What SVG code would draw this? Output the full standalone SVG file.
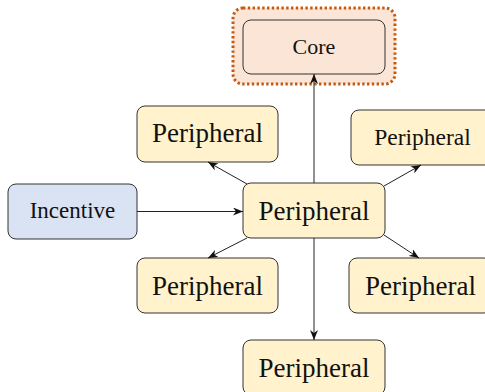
<svg xmlns="http://www.w3.org/2000/svg" width="485" height="392" viewBox="0 0 485 392">
  <defs>
    <marker id="arrow" viewBox="0 0 10 8" refX="10" refY="4" markerWidth="10" markerHeight="8" markerUnits="userSpaceOnUse" orient="auto">
      <path d="M0,0 L10,4 L0,8 L3,4 Z" fill="#111"/>
    </marker>
  </defs>
  <style>
    .box { stroke: #333; stroke-width: 1; }
    .peri { fill: #fff2cc; }
    .inc { fill: #dae3f3; }
    .core { fill: #fbe5d6; }
    .halo { fill: #fbe5d6; stroke: #c55a11; stroke-width: 3; stroke-dasharray: 2.4 2.4; }
    .lbl { fill: #111; text-anchor: middle; }
    .edge { fill: none; stroke: #222; stroke-width: 1; marker-end: url(#arrow); }
  </style>

  <g id="core">
    <rect class="halo" x="233" y="8" width="162" height="76" rx="10"/>
    <rect class="box core" x="243" y="20" width="142" height="54" rx="8"/>
    <text class="lbl" font-family="'Liberation Serif', 'Times New Roman', serif" x="314" y="53.5" font-size="22">Core</text>
  </g>

  <g id="incentive">
    <rect class="box inc" x="8" y="184" width="129" height="55" rx="8"/>
    <text class="lbl" font-family="'Liberation Serif', 'Times New Roman', serif" x="72.5" y="218" font-size="23">Incentive</text>
  </g>

  <g id="peripheral-center">
    <rect class="box peri" x="243" y="183" width="142" height="55" rx="8"/>
    <text class="lbl" font-family="'Liberation Serif', 'Times New Roman', serif" x="314" y="219.5" font-size="27">Peripheral</text>
  </g>

  <g id="peripheral-upper-left">
    <rect class="box peri" x="137" y="106" width="141" height="56" rx="8"/>
    <text class="lbl" font-family="'Liberation Serif', 'Times New Roman', serif" x="207.5" y="142" font-size="27">Peripheral</text>
  </g>

  <g id="peripheral-upper-right">
    <rect class="box peri" x="351" y="110" width="143" height="55" rx="8"/>
    <text class="lbl" font-family="'Liberation Serif', 'Times New Roman', serif" x="422.5" y="145" font-size="23.5">Peripheral</text>
  </g>

  <g id="peripheral-lower-left">
    <rect class="box peri" x="137" y="258" width="141" height="55" rx="8"/>
    <text class="lbl" font-family="'Liberation Serif', 'Times New Roman', serif" x="207.5" y="295" font-size="27">Peripheral</text>
  </g>

  <g id="peripheral-lower-right">
    <rect class="box peri" x="349" y="258" width="143" height="55" rx="8"/>
    <text class="lbl" font-family="'Liberation Serif', 'Times New Roman', serif" x="420.5" y="295" font-size="27">Peripheral</text>
  </g>

  <g id="peripheral-bottom">
    <rect class="box peri" x="243" y="340" width="142" height="55" rx="8"/>
    <text class="lbl" font-family="'Liberation Serif', 'Times New Roman', serif" x="314" y="377" font-size="27">Peripheral</text>
  </g>

  <g id="connectors">
    <path class="edge" d="M314,183 L314,74"/>
    <path class="edge" d="M314,238 L314,340"/>
    <path class="edge" d="M137,211.5 L243,211.5"/>
    <path class="edge" d="M247,184 L208,162"/>
    <path class="edge" d="M384,186 L421,165"/>
    <path class="edge" d="M247,238 L208,258"/>
    <path class="edge" d="M384,235 L419,258"/>
  </g>
</svg>
